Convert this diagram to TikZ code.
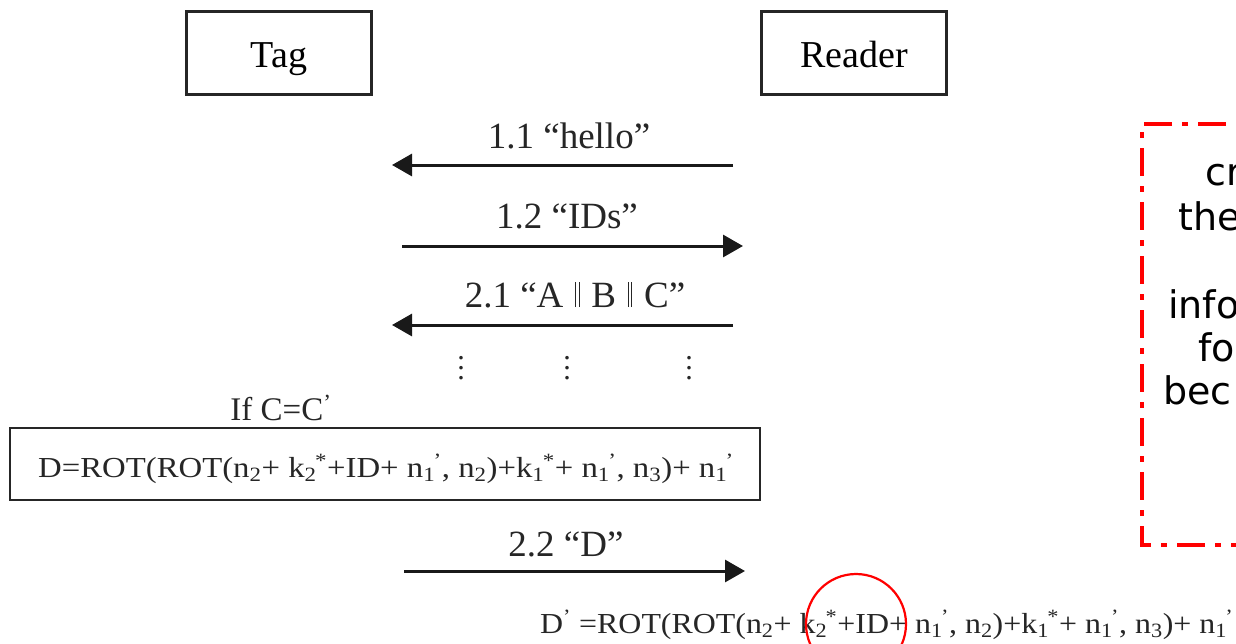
\documentclass[tikz,border=0pt]{standalone}
\usepackage{fontspec}
\setmainfont{Liberation Serif}
\newfontfamily\notefont{DejaVu Sans}
\usetikzlibrary{arrows.meta}
% subscript followed by a raised mark
\newcommand\subsup[2]{\textsubscript{#1}\kern-0.05em\textsuperscript{#2}}
% wide setting for the long formulas
\newcommand\wide[2][1.13]{\scalebox{#1}[1]{#2}}
% parallel bars used as a separator
\newcommand\dbar{\hspace{0.32em}\rule{0.9pt}{0.68em}\hspace{2.5pt}\rule{0.9pt}{0.68em}\hspace{0.32em}}
% vertical ellipsis with open spacing
\newcommand\vdts{\vbox{\baselineskip=10pt\lineskiplimit=0pt\hbox{.}\hbox{.}\hbox{.}}}
\begin{document}
\begin{tikzpicture}[x=1pt,y=-1pt,
  party/.style={draw=black!85,line width=2.2pt,minimum width=185pt,minimum height=83pt,inner sep=0pt,
    text height=28pt,text depth=0pt,font=\fontsize{38}{38}\selectfont},
  msg/.style={draw=black!90,line width=3pt,-{Triangle[length=20pt,width=22pt]}},
  lbl/.style={anchor=base,inner sep=0pt,text=black!85,font=\fontsize{37}{37}\selectfont},
  formula/.style={anchor=base west,inner sep=0pt,text=black!85,font=\fontsize{29}{29}\selectfont},
  vdots/.style={inner sep=0pt,text=black!85,font=\fontsize{30}{30}\selectfont},
  note/.style={anchor=base west,inner sep=0pt,font=\notefont\fontsize{38}{38}\selectfont},
  notebox/.style={draw=red,line width=4pt,dash pattern=on 28pt off 10pt on 6pt off 10pt},
]
\useasboundingbox (0,0) rectangle (1236,643);
\clip (0,0) rectangle (1236,643);

% the two parties
\node[party] (tag) at (279,53) {Tag};
\node[party] (reader) at (854,53) {Reader};

% message 1.1
\coordinate (m11r) at (733,165);
\coordinate (m11l) at (392,165);
\draw[msg] (m11r) -- (m11l);
\node[lbl] (l11) at (569,148) {1.1 “hello”};

% message 1.2
\coordinate (m12l) at (402,246);
\coordinate (m12r) at (743,246);
\draw[msg] (m12l) -- (m12r);
\node[lbl] (l12) at (567,228) {1.2 “IDs”};

% message 2.1
\coordinate (m21r) at (733,325);
\coordinate (m21l) at (392,325);
\draw[msg] (m21r) -- (m21l);
\node[lbl] (l21) at (575,307) {2.1 “A\dbar{}B\dbar{}C”};

% continuation dots
\node[vdots] (d1) at (461,368) {\vdts};
\node[vdots] (d2) at (567,368) {\vdts};
\node[vdots] (d3) at (689,368) {\vdts};

% condition and computation on the tag side
\node[lbl,font=\fontsize{33}{33}\selectfont] (cond) at (281,420) {If C=C\textsuperscript{’}};
\node[draw=black!85,line width=2.2pt,minimum width=750pt,minimum height=72pt,inner sep=0pt] (dbox) at (385,464) {};
\node[formula] (dtxt) at (38,477) {\wide{D=ROT(ROT(n\textsubscript{2}+ k\subsup{2}{*}+ID+ n\subsup{1}{’}, n\textsubscript{2})+k\subsup{1}{*}+ n\subsup{1}{’}, n\textsubscript{3})+ n\subsup{1}{’}}};

% message 2.2
\coordinate (m22l) at (404,571);
\coordinate (m22r) at (745,571);
\draw[msg] (m22l) -- (m22r);
\node[lbl] (l22) at (566,556) {2.2 “D”};

% check on the reader side
\node[formula] (dptxt) at (540,633) {\wide[1.1]{D\textsuperscript{’} =ROT(ROT(n\textsubscript{2}+ k\subsup{2}{*}+ID+ n\subsup{1}{’}, n\textsubscript{2})+k\subsup{1}{*}+ n\subsup{1}{’}, n\textsubscript{3})+ n\subsup{1}{’}}};

% highlight mark
\draw[red,line width=2.2pt] (856,624) ellipse (50pt and 50pt);

% side note
\draw[notebox] (1280,124) -- (1142,124) -- (1142,545) -- (1280,545);
\node[note] (n1) at (1205,185) {cr};
\node[note] (n2) at (1178,230) {the};
\node[note] (n3) at (1168,318) {info};
\node[note] (n4) at (1198,361) {fo};
\node[note] (n5) at (1163,404) {bec};
\end{tikzpicture}
\end{document}
